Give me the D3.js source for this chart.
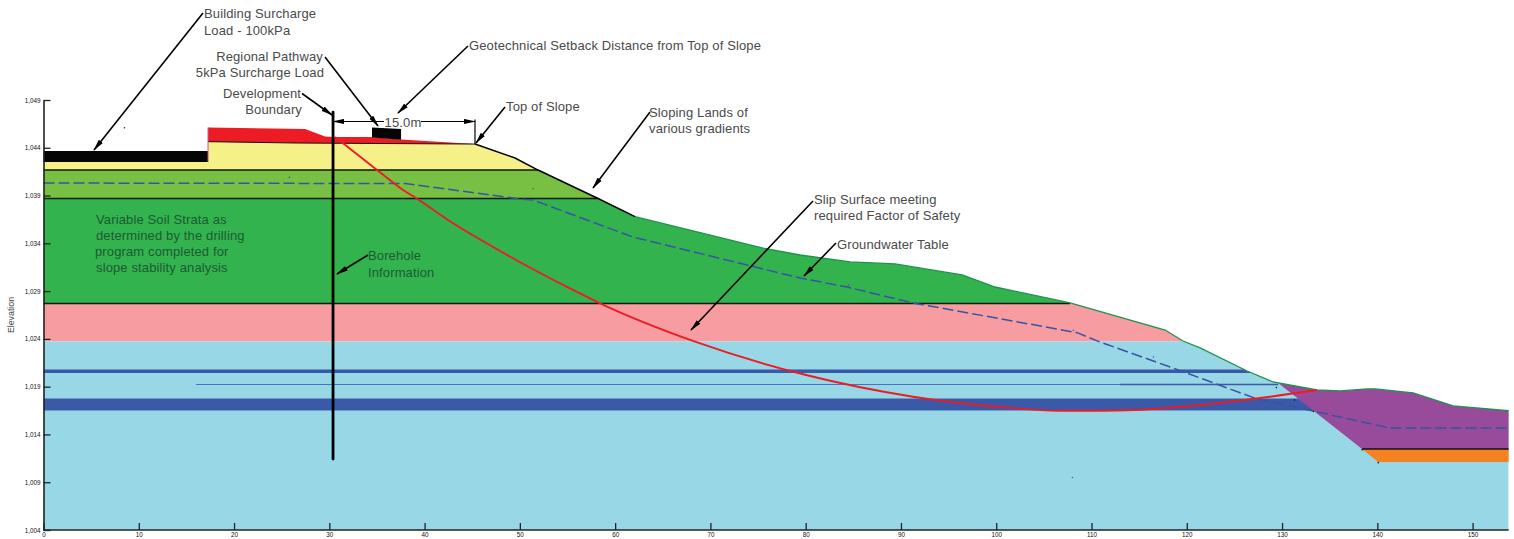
<!DOCTYPE html>
<html>
<head>
<meta charset="utf-8">
<script src="https://cdn.jsdelivr.net/npm/d3@7"></script>
<style>
  html, body { margin: 0; background: #fff; }
  svg { display: block; }
  text { font-family: "Liberation Sans", Arial, sans-serif; }
  .note { font-size: 13px; fill: #4a4a4a; letter-spacing: 0.13px; }
  .note.dark { fill: #1d5a34; }
  .axis text { font-size: 6.3px; fill: #111; }
  .axis path, .axis line { stroke: #222; }
</style>
</head>
<body>
<div id="app"></div>
<script>
const width = 1514
const height = 539

// ground profile, [distance m, elevation m]
const groundLine = [
  [0, 1042.51], [17.27, 1042.51], [17.27, 1044.64], [26.4, 1044.5], [45.29, 1044.39],
  [49.49, 1042.93], [51.91, 1041.67], [58.21, 1038.69], [62.09, 1036.79], [75.53, 1033.51],
  [79.41, 1032.78], [84.66, 1032.05], [89.38, 1031.84], [96.42, 1030.69], [99.88, 1029.43],
  [107.75, 1027.76], [117.73, 1024.93], [119.61, 1023.78], [121.4, 1023.05], [126.33, 1020.64],
  [129.06, 1019.49], [133.68, 1018.65], [136.09, 1018.55], [138.93, 1018.76], [139.77, 1018.76],
  [143.76, 1018.34], [147.96, 1016.98], [153.78, 1016.48]
]

// soil layers clipped by the ground
const layerNames = ['fill', 'lightGreen', 'green', 'pink', 'blue', 'band1', 'band2']
const layerTops = [1044.7, 1041.67, 1038.69, 1027.7, 1023.73, 1020.8, 1017.76]
const layerBottoms = [1041.67, 1038.69, 1027.7, 1023.73, 1004, 1020.43, 1016.51]
const layerColors = ['#f6f088', '#78c043', '#33b34d', '#f79da1', '#98d8e6', '#3a5aa8', '#3a5aa8']

const fillRed = [
  [17.27, 1046.12], [27.45, 1045.96], [29.55, 1045.18], [30.39, 1045.13], [34.27, 1045.13],
  [37.53, 1044.87], [45.29, 1044.39], [26.4, 1044.5], [17.27, 1044.64]
]
const buildingLoad = [[0, 1043.66], [17.27, 1043.66], [17.27, 1042.51], [0, 1042.51]]
const pathwayLoad = [[34.48, 1046.12], [37.53, 1045.96], [37.53, 1044.85], [34.48, 1045.07]]

const purpleBase = [[153.78, 1012.48], [138.4, 1012.48], [129.59, 1019.38]]
const orangeLayer = [[138.4, 1012.48], [153.78, 1012.48], [153.78, 1011.12], [140.09, 1011.12]]

const groundwater = [
  [0, 1040.31], [37.95, 1040.26], [50.02, 1038.64], [51.38, 1038.53], [61.88, 1034.66],
  [79.41, 1030.37], [84.34, 1029.43], [91.27, 1027.76], [108.49, 1024.65], [110.9, 1023.67],
  [118.56, 1020.95], [127.38, 1017.71], [133.26, 1016.45], [141.34, 1014.67], [153.78, 1014.67]
]
const slipSurface = [
  [30.6, 1045.13], [35.01, 1041.67], [37.74, 1039.58], [39.21, 1038.67], [42.46, 1036.44],
  [47.92, 1033.2], [55.58, 1029.12], [58.42, 1027.72], [68.39, 1023.71], [80.04, 1020.22],
  [91.27, 1017.95], [100.14, 1016.9], [106.6, 1016.48], [110.9, 1016.48], [114.57, 1016.56],
  [121.4, 1017.08], [127.7, 1017.81], [133.68, 1018.65]
]
const thinWater = [16.0, 129.59]
const thinWaterLevel = 1019.23
const boreholeX = 30.39
const boreholeEnds = [1047.74, 1011.43]
const setback = [30.39, 45.29]
const setbackLevel = 1046.75
const setbackLabel = '15.0m'
const specks = [
  [8.5, 1046.1, '#222'], [25.8, 1040.9, '#2a7a3a'], [51.4, 1039.7, '#2a7a3a'], [84.5, 1029.6, '#3a5aa8'],
  [108.1, 1024.9, '#3a5aa8'], [116.5, 1022.1, '#3a5aa8'], [108.0, 1009.5, '#1b8a4b'],
  [129.4, 1018.9, '#111'], [131.3, 1017.6, '#111'], [133.3, 1016.4, '#111'], [138.4, 1012.4, '#111'], [140.1, 1011.05, '#111']
]

const xTicks = [0, 10, 20, 30, 40, 50, 60, 70, 80, 90, 100, 110, 120, 130, 140, 150]
const yTicks = [1004, 1009, 1014, 1019, 1024, 1029, 1034, 1039, 1044, 1049]

// leader lines are page furniture, kept in pixels [x1, y1, x2, y2]
const leaders = [
  [203, 13, 94, 150], [325, 57, 378, 126], [302, 93.5, 332, 115], [468, 46, 398, 113],
  [505, 107, 476, 143], [650, 112, 593, 188], [813, 201, 691, 330], [836, 243, 804, 276], [368, 255, 337, 274]
]
const notes = [
  ['Building Surcharge', 204, 18, 'start'], ['Load - 100kPa', 204, 34.5, 'start'],
  ['Regional Pathway', 323, 60.5, 'end'], ['5kPa Surcharge Load', 324, 77, 'end'],
  ['Development', 301, 98, 'end'], ['Boundary', 302, 114, 'end'],
  ['Geotechnical Setback Distance from Top of Slope', 469, 50, 'start'],
  ['Top of Slope', 506, 111, 'start'],
  ['Sloping Lands of', 649, 117, 'start'], ['various gradients', 649, 133, 'start'],
  ['Slip Surface meeting', 814, 204, 'start'], ['required Factor of Safety', 814, 220, 'start'],
  ['Groundwater Table', 837, 249, 'start']
]
const strataNotes = [
  ['Variable Soil Strata as', 96, 224], ['determined by the drilling', 96, 240],
  ['program completed for', 95, 256], ['slope stability analysis', 96, 272],
  ['Borehole', 368, 260], ['Information', 368, 277]
]

const x = d3.scaleLinear().domain([0, 150]).range([43.5, 1472.6])
const y = d3.scaleLinear().domain([1004, 1049]).range([530, 100])
const xEnd = d3.max(groundLine, d => d[0])

const svg = d3.select('#app').append('svg')
  .attr('width', width)
  .attr('height', height)
  .attr('viewBox', [0, 0, width, height])

const defs = svg.append('defs')
defs.append('marker')
  .attr('id', 'head')
  .attr('viewBox', '0 -3 12 6')
  .attr('refX', 11)
  .attr('refY', 0)
  .attr('markerUnits', 'userSpaceOnUse')
  .attr('markerWidth', 12)
  .attr('markerHeight', 6)
  .attr('orient', 'auto-start-reverse')
  .append('path')
  .attr('d', 'M0,-2.6L12,0L0,2.6Z')
  .attr('fill', '#000')

const line = d3.line().x(d => x(d[0])).y(d => y(d[1]))
const poly = pts => line(pts) + 'Z'

defs.append('clipPath').attr('id', 'ground')
  .append('path')
  .attr('d', poly(groundLine.concat([[xEnd, 1004], [0, 1004]])))

// soil layers
svg.append('g')
  .attr('clip-path', 'url(#ground)')
  .selectAll('rect')
  .data(layerNames)
  .join('rect')
  .attr('x', x(0))
  .attr('width', x(xEnd) - x(0))
  .attr('y', (d, i) => y(layerTops[i]))
  .attr('height', (d, i) => y(layerBottoms[i]) - y(layerTops[i]))
  .attr('fill', (d, i) => layerColors[i])

// thin lens
svg.append('path')
  .attr('d', line(thinWater.map(d => [d, thinWaterLevel])))
  .attr('stroke', '#4a70bd').attr('stroke-width', 1).attr('fill', 'none')
svg.append('path')
  .attr('d', line([[113, thinWaterLevel], [thinWater[1], thinWaterLevel]]))
  .attr('stroke', '#3a5aa8').attr('stroke-width', 1.4).attr('fill', 'none')

const purple = groundLine.filter(d => d[0] > 129.6)
svg.append('path').attr('d', poly([purpleBase[2]].concat(purple, purpleBase.slice(0, 2)))).attr('fill', '#984b9b')
svg.append('path').attr('d', poly(orangeLayer)).attr('fill', '#f58220')
svg.append('path').attr('d', poly(fillRed)).attr('fill', '#ed1c24')
svg.append('path').attr('d', poly(buildingLoad)).attr('fill', '#050505')
svg.append('path').attr('d', poly(pathwayLoad)).attr('fill', '#050505')

// strata boundaries
const strataLines = [[1041.67, 51.91], [1038.69, 58.21], [1027.7, 107.75]]
svg.append('g').selectAll('path')
  .data(strataLines)
  .join('path')
  .attr('d', d => line([[0, d[0]], [d[1], d[0]]]))
  .attr('stroke', '#0c1a10').attr('stroke-width', 1.5).attr('fill', 'none')
svg.append('path')
  .attr('d', line([[138.4, 1012.48], [xEnd, 1012.48]]))
  .attr('stroke', '#111').attr('stroke-width', 1.5)

// surface lines
svg.append('path')
  .attr('d', line(groundLine.filter(d => d[0] >= 62.09)))
  .attr('fill', 'none').attr('stroke', '#1f9250').attr('stroke-width', 1.3)
svg.append('path')
  .attr('d', line(groundLine.filter(d => d[0] >= 45.29 && d[0] <= 62.09)))
  .attr('fill', 'none').attr('stroke', '#000').attr('stroke-width', 1.5)
svg.append('path')
  .attr('d', line(groundLine.filter(d => d[0] >= 17.27 && d[0] <= 45.29).slice(1)))
  .attr('fill', 'none').attr('stroke', '#111').attr('stroke-width', 1)
svg.append('path')
  .attr('d', line([[17.27, 1046.12], [17.27, 1042.51]]))
  .attr('fill', 'none').attr('stroke', '#c2559a').attr('stroke-width', 1)

svg.append('path')
  .attr('d', line(groundwater))
  .attr('fill', 'none').attr('stroke', '#3853a4').attr('stroke-width', 1.5).attr('stroke-dasharray', '11 4')
svg.append('path')
  .attr('d', d3.line().x(d => x(d[0])).y(d => y(d[1])).curve(d3.curveMonotoneX)(slipSurface))
  .attr('fill', 'none').attr('stroke', '#ed1c24').attr('stroke-width', 1.9)

svg.append('g').selectAll('circle')
  .data(specks)
  .join('circle')
  .attr('cx', d => x(d[0]))
  .attr('cy', d => y(d[1]))
  .attr('r', 0.8)
  .attr('fill', d => d[2])

// borehole
svg.append('path')
  .attr('d', line(boreholeEnds.map(d => [boreholeX, d])))
  .attr('stroke', '#000').attr('stroke-width', 2.8).attr('stroke-linecap', 'round')

// 15.0m setback dimension
const dimY = y(setbackLevel)
svg.append('line')
  .attr('x1', x(setback[1])).attr('x2', x(setback[1]))
  .attr('y1', dimY - 2).attr('y2', y(1044.39))
  .attr('stroke', '#000').attr('stroke-width', 1.2)
svg.selectAll('.dim')
  .data([[setback[0], 384], [setback[1], 421]])
  .join('line')
  .attr('class', 'dim')
  .attr('x1', d => d[1]).attr('x2', d => x(d[0]))
  .attr('y1', dimY).attr('y2', dimY)
  .attr('stroke', '#000').attr('stroke-width', 1.2)
  .attr('marker-end', 'url(#head)')
svg.append('text')
  .attr('class', 'note')
  .attr('x', 403).attr('y', dimY + 5)
  .attr('text-anchor', 'middle')
  .text(setbackLabel)

// leaders and labels
svg.append('g').selectAll('line')
  .data(leaders)
  .join('line')
  .attr('x1', d => d[0]).attr('y1', d => d[1])
  .attr('x2', d => d[2]).attr('y2', d => d[3])
  .attr('stroke', '#000').attr('stroke-width', 1.6)
  .attr('marker-end', 'url(#head)')

svg.append('g').selectAll('text')
  .data(notes)
  .join('text')
  .attr('class', 'note')
  .attr('x', d => d[1]).attr('y', d => d[2])
  .attr('text-anchor', d => d[3])
  .text(d => d[0])

svg.append('g').selectAll('text')
  .data(strataNotes)
  .join('text')
  .attr('class', 'note dark')
  .attr('x', d => d[1]).attr('y', d => d[2])
  .text(d => d[0])

// axes
const xAxis = d3.axisBottom(x).tickValues(xTicks).tickSize(-7).tickSizeOuter(0).tickPadding(3)
const yAxis = d3.axisLeft(y).tickValues(yTicks).tickFormat(d3.format(',')).tickSize(-7).tickSizeOuter(0).tickPadding(3)

const gx = svg.append('g').attr('class', 'axis').attr('transform', `translate(0,${y(1004)})`).call(xAxis)
gx.select('.domain').attr('d', `M${x(0)},0H${x(xEnd)}`).attr('stroke-width', 1.6)
gx.selectAll('line').attr('stroke-width', 1.3)
const gy = svg.append('g').attr('class', 'axis').attr('transform', `translate(${x(0)},0)`).call(yAxis)
gy.select('.domain').attr('stroke-width', 1.6)
gy.selectAll('line').attr('stroke-width', 1.3)

svg.append('text')
  .attr('transform', `translate(14,${y(1026.5)}) rotate(-90)`)
  .attr('text-anchor', 'middle')
  .attr('font-size', 8.8)
  .attr('fill', '#444')
  .text('Elevation')
</script>
</body>
</html>
